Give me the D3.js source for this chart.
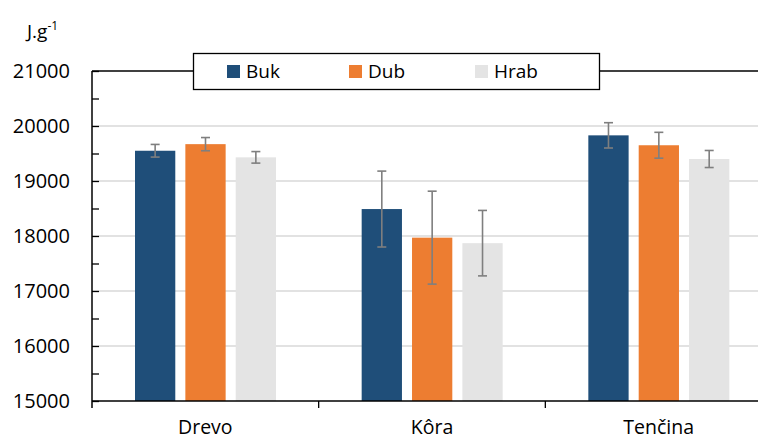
<!DOCTYPE html>
<html>
<head>
<meta charset="utf-8">
<script src="https://cdn.jsdelivr.net/npm/d3@7"></script>
<style>
body { margin: 0; background: #fff; }
text { font-family: "Open Sans", sans-serif; fill: #000; }
</style>
</head>
<body>
<div id="chart"></div>
<script>
var categories = ["Drevo", "Kôra", "Tenčina"];
var seriesNames = ["Buk", "Dub", "Hrab"];
var bukValues = [19550, 18490, 19830];
var dubValues = [19670, 17970, 19650];
var hrabValues = [19430, 17870, 19400];
var bukErrors = [115, 690, 230];
var dubErrors = [120, 845, 235];
var hrabErrors = [105, 595, 155];
var yTicks = [15000, 16000, 17000, 18000, 19000, 20000, 21000];
var colours = ["#1f4e79", "#ed7d31", "#e4e4e4"];

var width = 758, height = 440;
var plotLeft = 92, plotRight = 772, plotTop = 71, plotBottom = 401;

var svg = d3.select("#chart").append("svg")
    .attr("width", width)
    .attr("height", height);

var x = d3.scaleBand()
    .domain(categories)
    .range([plotLeft, plotRight]);
var xInner = d3.scaleBand()
    .domain(seriesNames)
    .range([43, 43 + 141])
    .paddingInner(0.2);
var y = d3.scaleLinear()
    .domain([15000, 21000])
    .range([plotBottom, plotTop]);

// grid lines
svg.append("g")
    .selectAll("line")
    .data(yTicks.slice(1, -1)).enter()
    .append("line")
    .attr("x1", plotLeft)
    .attr("x2", width)
    .attr("y1", (d) => y(d))
    .attr("y2", (d) => y(d))
    .style("stroke", "#d9d9d9")
    .style("stroke-width", "1.5");

// top line
svg.append("line")
    .attr("x1", plotLeft).attr("x2", width)
    .attr("y1", y(21000)).attr("y2", y(21000))
    .style("stroke", "#000").style("stroke-width", "1.3");

// bars
var rows = [];
var values = [bukValues, dubValues, hrabValues];
var errors = [bukErrors, dubErrors, hrabErrors];
categories.forEach((c, i) => {
    seriesNames.forEach((s, j) => {
        rows.push({cat: c, series: s, value: values[j][i], err: errors[j][i], colour: colours[j]});
    });
});

svg.append("g")
    .selectAll("rect")
    .data(rows).enter()
    .append("rect")
    .attr("x", (d) => x(d.cat) + xInner(d.series))
    .attr("width", xInner.bandwidth())
    .attr("y", (d) => y(d.value))
    .attr("height", (d) => y(15000) - y(d.value))
    .style("fill", (d) => d.colour);

// error bars
var eb = svg.append("g")
    .selectAll("g")
    .data(rows).enter()
    .append("g")
    .style("stroke", "#7f7f7f")
    .style("stroke-width", "1.6");
var cx = (d) => x(d.cat) + xInner(d.series) + xInner.bandwidth() / 2;
eb.append("line")
    .attr("x1", cx).attr("x2", cx)
    .attr("y1", (d) => y(d.value + d.err))
    .attr("y2", (d) => y(d.value - d.err));
eb.append("line")
    .attr("x1", (d) => cx(d) - 4.5).attr("x2", (d) => cx(d) + 4.5)
    .attr("y1", (d) => y(d.value + d.err))
    .attr("y2", (d) => y(d.value + d.err));
eb.append("line")
    .attr("x1", (d) => cx(d) - 4.5).attr("x2", (d) => cx(d) + 4.5)
    .attr("y1", (d) => y(d.value - d.err))
    .attr("y2", (d) => y(d.value - d.err));

// y axis
var yMinor = d3.range(15000, 21001, 500);
var yAxis = svg.append("g")
    .attr("transform", "translate(" + plotLeft + ",0)")
    .call(d3.axisRight(y).tickValues(yMinor).tickSize(7).tickFormat(""));
yAxis.select(".domain").remove();
yAxis.selectAll("line").style("stroke", "#000").style("stroke-width", "1.3");
svg.append("line")
    .attr("x1", plotLeft).attr("x2", plotLeft)
    .attr("y1", plotTop).attr("y2", plotBottom + 7)
    .style("stroke", "#000").style("stroke-width", "1.5");
svg.append("g")
    .selectAll("text")
    .data(yTicks).enter()
    .append("text")
    .attr("x", 70)
    .attr("y", (d) => y(d) + 7)
    .attr("text-anchor", "end")
    .style("font-size", "20px")
    .text((d) => d);

// x axis
svg.append("line")
    .attr("x1", plotLeft).attr("x2", width)
    .attr("y1", plotBottom).attr("y2", plotBottom)
    .style("stroke", "#000").style("stroke-width", "1.5");
svg.append("g")
    .selectAll("line")
    .data(categories.slice(1)).enter()
    .append("line")
    .attr("x1", (d) => x(d)).attr("x2", (d) => x(d))
    .attr("y1", plotBottom).attr("y2", plotBottom + 7)
    .style("stroke", "#000").style("stroke-width", "1.3");
svg.append("g")
    .selectAll("text")
    .data(categories).enter()
    .append("text")
    .attr("x", (d) => x(d) + x.bandwidth() / 2)
    .attr("y", 434)
    .attr("text-anchor", "middle")
    .style("font-size", "19.5px")
    .text((d) => d);

// unit label
var unit = svg.append("text")
    .attr("x", 27)
    .attr("y", 38)
    .style("font-size", "19px");
unit.append("tspan").text("J.g");
unit.append("tspan").attr("dy", -8).style("font-size", "12px").text("-1");

// legend
var legend = svg.append("g");
legend.append("rect")
    .attr("x", 193.5).attr("y", 53.5)
    .attr("width", 406).attr("height", 36)
    .style("fill", "#fff")
    .style("stroke", "#000")
    .style("stroke-width", "1.3");
var legendX = [227, 349, 475];
var items = legend.selectAll("g.item")
    .data(seriesNames).enter()
    .append("g")
    .attr("transform", (d, i) => "translate(" + legendX[i] + ",65)");
items.append("rect")
    .attr("width", 13).attr("height", 13)
    .style("fill", (d, i) => colours[i]);
items.append("text")
    .attr("x", 19).attr("y", 13)
    .style("font-size", "19px")
    .text((d) => d);
</script>
</body>
</html>
